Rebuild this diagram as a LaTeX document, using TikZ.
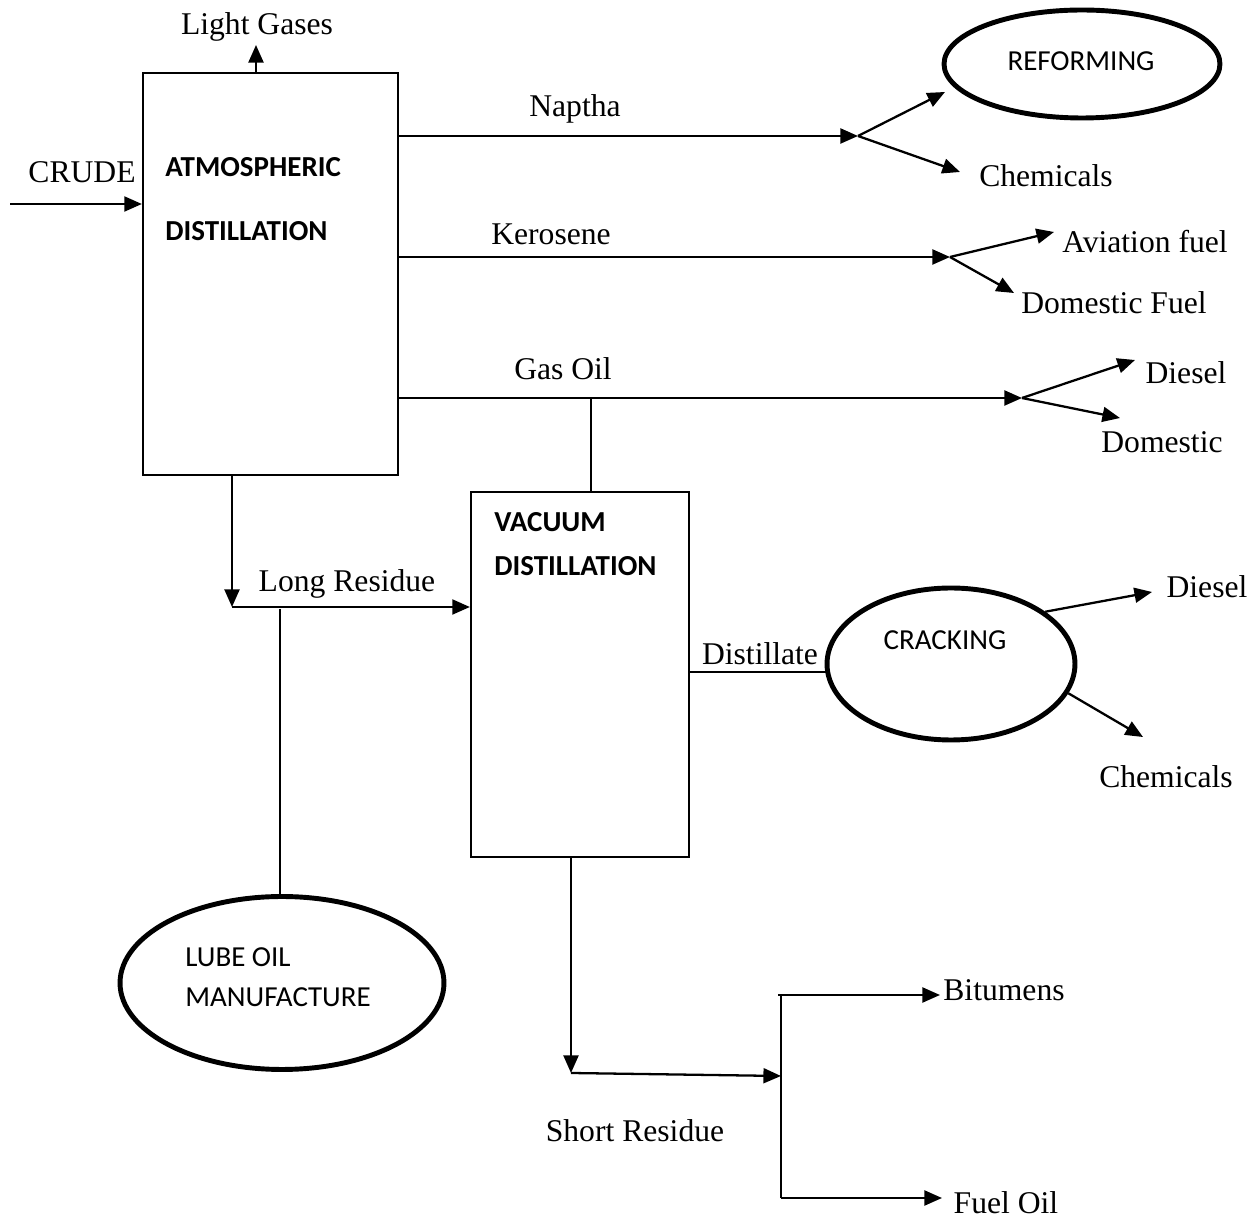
\documentclass[tikz,border=0pt]{standalone}
\usepackage{fontspec}
\setmainfont{Liberation Serif}
\newfontfamily\calfont{Carlito}
\usetikzlibrary{arrows.meta,shapes.geometric}
\begin{document}
\begin{tikzpicture}[x=0.02cm,y=-0.02cm,
  line/.style={line width=1.3pt},
  arr/.style={line width=1.3pt, -{Triangle[length=10pt,width=8.5pt]}},
  box/.style={draw, line width=1.3pt, inner sep=0pt},
  oval/.style={draw, ellipse, line width=2.8pt, inner sep=0pt},
  lbl/.style={font=\fontsize{18}{21}\selectfont, anchor=base, inner sep=0pt},
  hd/.style={font=\calfont\bfseries\fontsize{16.5}{19}\selectfont, anchor=base west, inner sep=0pt},
  hdl/.style={font=\calfont\fontsize{16.5}{19}\selectfont, anchor=base west, inner sep=0pt},
  hdc/.style={font=\calfont\fontsize{16.5}{19}\selectfont, anchor=base, inner sep=0pt}]
\useasboundingbox (0,0) rectangle (1259,1222);

% main units
\node[box, minimum width=5.1cm, minimum height=8.04cm] (atm) at (270.5,274) {};
\node[box, minimum width=4.36cm, minimum height=7.3cm] (vac) at (580,674.5) {};
\node[oval, minimum width=5.52cm, minimum height=2.16cm] (ref) at (1082,64) {};
\node[oval, minimum width=4.96cm, minimum height=3.04cm] (crk) at (951,664) {};
\node[oval, minimum width=6.48cm, minimum height=3.46cm] (lube) at (282,983) {};

% unit texts
\node[hd] (t1) at (165,177) {ATMOSPHERIC};
\node[hd] (t2) at (165,241) {DISTILLATION};
\node[hd] (t3) at (494,532) {VACUUM};
\node[hd] (t4) at (494,576) {DISTILLATION};
\node[hdc] (t5) at (1081,71) {REFORMING};
\node[hdc] (t6) at (945,650) {CRACKING};
\node[hdl] (t7) at (185,967) {LUBE OIL};
\node[hdl] (t8) at (185,1007) {MANUFACTURE};

% labels
\node[lbl] (l1) at (257,35) {Light Gases};
\node[lbl] (l2) at (82,183) {CRUDE};
\node[lbl] (l3) at (575,117) {Naptha};
\node[lbl] (l4) at (551,245) {Kerosene};
\node[lbl] (l5) at (563,380) {Gas Oil};
\node[lbl] (l6) at (1046,187) {Chemicals};
\node[lbl] (l7) at (1145,253) {Aviation fuel};
\node[lbl] (l8) at (1114,314) {Domestic Fuel};
\node[lbl] (l9) at (1186,384) {Diesel};
\node[lbl] (l10) at (1162,453) {Domestic};
\node[lbl] (l11) at (347,592) {Long Residue};
\node[lbl] (l12) at (760,665) {Distillate};
\node[lbl] (l13) at (1207,598) {Diesel};
\node[lbl] (l14) at (1166,788) {Chemicals};
\node[lbl] (l15) at (635,1142) {Short Residue};
\node[lbl] (l16) at (1004,1001) {Bitumens};
\node[lbl] (l17) at (1006,1214) {Fuel Oil};

% junction / end coordinates
\coordinate (lg) at (256,45);
\coordinate (crin) at (10,204);
\coordinate (nj) at (858,136);
\coordinate (rf) at (945,92);
\coordinate (nc) at (960,172);
\coordinate (kj) at (950,257);
\coordinate (ka) at (1054,232);
\coordinate (kd) at (1014,293);
\coordinate (gj) at (1022,398);
\coordinate (gd) at (1135,360);
\coordinate (go) at (1120,418);
\coordinate (gv) at (591,398);
\coordinate (lr) at (232,607);
\coordinate (lt) at (280,609);
\coordinate (dj) at (828,672);
\coordinate (cd) at (1152,592);
\coordinate (cc) at (1143,737);
\coordinate (sr) at (571,1073);
\coordinate (sj) at (781,1076);
\coordinate (bt) at (781,995);
\coordinate (btl) at (778,995);
\coordinate (bte) at (940,995);
\coordinate (fo) at (781,1198);
\coordinate (foe) at (942,1198);

% connectors
\draw[arr] (lg |- atm.north) -- (lg);
\draw[arr] (crin) -- (crin -| atm.west);
\draw[arr] (nj -| atm.east) -- (nj);
\draw[arr] (nj) -- (rf);
\draw[arr] (nj) -- (nc);
\draw[arr] (kj -| atm.east) -- (kj);
\draw[arr] (kj) -- (ka);
\draw[arr] (kj) -- (kd);
\draw[arr] (gj -| atm.east) -- (gj);
\draw[arr] (gj) -- (gd);
\draw[arr] (gj) -- (go);
\draw[line] (gv) -- (gv |- vac.north);
\draw[arr] (lr |- atm.south) -- (lr);
\draw[arr] (lr) -- (lr -| vac.west);
\draw[line] (lt) -- (lt |- lube.north);
\draw[line] (dj -| vac.east) -- (dj);
\draw[arr] (crk.29) -- (cd);
\draw[arr] (crk.-14) -- (cc);
\draw[arr] (sr |- vac.south) -- (sr);
\draw[arr] (sr) -- (sj);
\draw[line] (bt) -- (fo);
\draw[arr] (btl) -- (bte);
\draw[arr] (fo) -- (foe);
\end{tikzpicture}
\end{document}
